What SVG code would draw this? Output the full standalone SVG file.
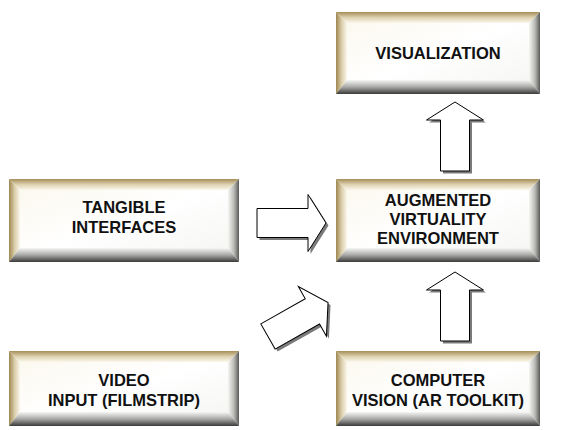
<svg xmlns="http://www.w3.org/2000/svg" width="564" height="430" viewBox="0 0 564 430">
  <style>
    .lbl { font-family: "Liberation Sans", Arial, sans-serif; font-weight: bold; font-size: 16.5px; fill: #111; text-anchor: middle; }
    .face { fill: url(#gFace); }
    .bl { fill: url(#gL); }
    .bt { fill: url(#gT); }
    .br { fill: url(#gR); }
    .bb { fill: url(#gB); }
    .arr { fill: #fff; stroke: #000; stroke-width: 1; stroke-linejoin: miter; }
    .shd { fill: #7a7a7a; stroke: none; }
  </style>
  <defs>
    <linearGradient id="gFace" x1="0" y1="0" x2="1" y2="1">
      <stop offset="0" stop-color="#fbf7ec"/>
      <stop offset="0.5" stop-color="#ffffff"/>
      <stop offset="1" stop-color="#f4f4f2"/>
    </linearGradient>
    <linearGradient id="gL" x1="0" y1="0" x2="1" y2="0">
      <stop offset="0" stop-color="#9e8750"/>
      <stop offset="0.5" stop-color="#d9ccaa"/>
      <stop offset="1" stop-color="#fbf7ec"/>
    </linearGradient>
    <linearGradient id="gT" x1="0" y1="0" x2="0" y2="1">
      <stop offset="0" stop-color="#a58e58"/>
      <stop offset="0.5" stop-color="#ddd1b0"/>
      <stop offset="1" stop-color="#fbf7ec"/>
    </linearGradient>
    <linearGradient id="gR" x1="0" y1="0" x2="1" y2="0">
      <stop offset="0" stop-color="#f6f6f4"/>
      <stop offset="0.55" stop-color="#b8b8b4"/>
      <stop offset="1" stop-color="#5a5a58"/>
    </linearGradient>
    <linearGradient id="gB" x1="0" y1="0" x2="0" y2="1">
      <stop offset="0" stop-color="#f6f6f4"/>
      <stop offset="0.5" stop-color="#a8a8a6"/>
      <stop offset="1" stop-color="#3a3a3a"/>
    </linearGradient>
    <!-- block arrow pointing right, tail centre at origin -->
    <path id="blk" d="M0,-14.5 H51 V-28.5 L69,0 L51,28.5 V14.5 H0 Z"/>
  </defs>

  <!-- beveled boxes: bevel 11 left/top/right, 14 bottom -->
  <g id="visualization" transform="translate(336,12)">
    <rect class="face" width="204" height="82"/>
    <polygon class="bl" points="0,0 11,11 11,68 0,82"/>
    <polygon class="bt" points="0,0 204,0 193,11 11,11"/>
    <polygon class="br" points="204,0 204,82 193,68 193,11"/>
    <polygon class="bb" points="0,82 11,68 193,68 204,82"/>
    <text class="lbl" x="102" y="47">VISUALIZATION</text>
  </g>

  <g id="tangible" transform="translate(9,179)">
    <rect class="face" width="230" height="83"/>
    <polygon class="bl" points="0,0 11,11 11,69 0,83"/>
    <polygon class="bt" points="0,0 230,0 219,11 11,11"/>
    <polygon class="br" points="230,0 230,83 219,69 219,11"/>
    <polygon class="bb" points="0,83 11,69 219,69 230,83"/>
    <text class="lbl" x="115" y="34">TANGIBLE</text>
    <text class="lbl" x="115" y="54">INTERFACES</text>
  </g>

  <g id="augmented" transform="translate(336,179)">
    <rect class="face" width="204" height="83"/>
    <polygon class="bl" points="0,0 11,11 11,69 0,83"/>
    <polygon class="bt" points="0,0 204,0 193,11 11,11"/>
    <polygon class="br" points="204,0 204,83 193,69 193,11"/>
    <polygon class="bb" points="0,83 11,69 193,69 204,83"/>
    <text class="lbl" x="102" y="27">AUGMENTED</text>
    <text class="lbl" x="102" y="46">VIRTUALITY</text>
    <text class="lbl" x="102" y="65">ENVIRONMENT</text>
  </g>

  <g id="video" transform="translate(9,351)">
    <rect class="face" width="230" height="75"/>
    <polygon class="bl" points="0,0 11,11 11,61 0,75"/>
    <polygon class="bt" points="0,0 230,0 219,11 11,11"/>
    <polygon class="br" points="230,0 230,75 219,61 219,11"/>
    <polygon class="bb" points="0,75 11,61 219,61 230,75"/>
    <text class="lbl" x="115" y="35">VIDEO</text>
    <text class="lbl" x="115" y="55">INPUT (FILMSTRIP)</text>
  </g>

  <g id="computer-vision" transform="translate(336,351)">
    <rect class="face" width="204" height="75"/>
    <polygon class="bl" points="0,0 11,11 11,61 0,75"/>
    <polygon class="bt" points="0,0 204,0 193,11 11,11"/>
    <polygon class="br" points="204,0 204,75 193,61 193,11"/>
    <polygon class="bb" points="0,75 11,61 193,61 204,75"/>
    <text class="lbl" x="102" y="35">COMPUTER</text>
    <text class="lbl" x="102" y="55">VISION (AR TOOLKIT)</text>
  </g>

  <!-- block arrows with drop shadows -->
  <g id="connectors">
    <g transform="translate(257,223)">
      <use href="#blk" class="shd" x="2.5" y="2.5"/>
      <use href="#blk" class="arr"/>
    </g>
    <g transform="translate(268,336.5) rotate(-29.5)">
      <use href="#blk" class="shd" transform="rotate(29.5) translate(2.5,2.5) rotate(-29.5)"/>
      <use href="#blk" class="arr"/>
    </g>
    <g transform="translate(455,341) rotate(-90)">
      <use href="#blk" class="shd" transform="rotate(90) translate(2.5,2.5) rotate(-90)"/>
      <use href="#blk" class="arr"/>
    </g>
    <g transform="translate(455,171) rotate(-90)">
      <use href="#blk" class="shd" transform="rotate(90) translate(2.5,2.5) rotate(-90)"/>
      <use href="#blk" class="arr"/>
    </g>
  </g>
</svg>
